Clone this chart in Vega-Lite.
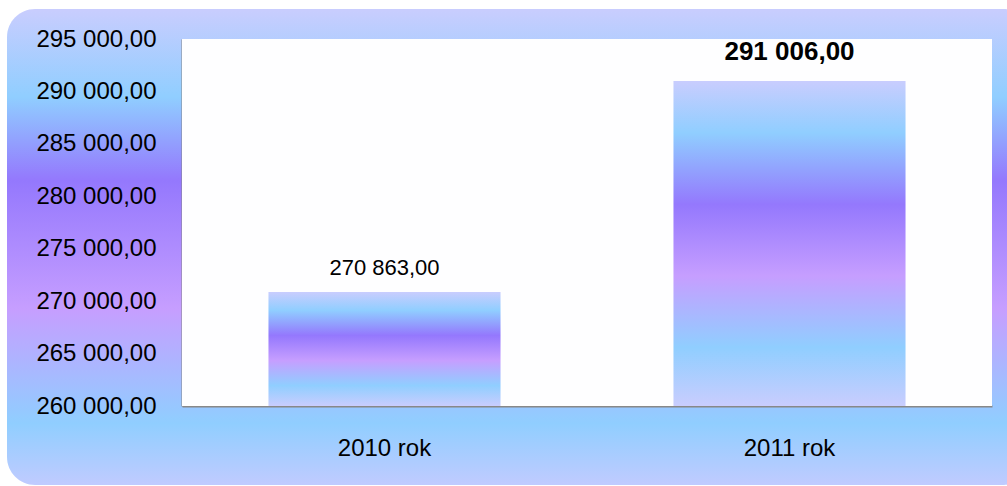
{
  "$schema": "https://vega.github.io/schema/vega-lite/v6.json",
  "width": 1025,
  "height": 476,
  "autosize": "none",
  "padding": {"left": 7, "top": 9, "right": 0, "bottom": 0},
  "background": "#ffffff",
  "config": {
    "locale": {"number": {"decimal": ",", "thousands": " ", "grouping": [3], "currency": ["", ""]}},
    "view": {
      "stroke": null,
      "cornerRadius": 28,
      "fill": {
        "gradient": "linear", "x1": 0, "y1": 0, "x2": 0, "y2": 1,
        "stops": [
          {"offset": 0, "color": "#c9cdfe"},
          {"offset": 0.185, "color": "#90ceff"},
          {"offset": 0.36, "color": "#9478fd"},
          {"offset": 0.63, "color": "#c69eff"},
          {"offset": 0.87, "color": "#90ceff"},
          {"offset": 1, "color": "#c0cbff"}
        ]
      }
    },
    "font": "Liberation Sans"
  },
  "data": {"values": [
    {"rok": "2010 rok", "wartosc": 270863},
    {"rok": "2011 rok", "wartosc": 291006}
  ]},
  "layer": [
    {
      "data": {"values": [{"od": 0, "do": 1, "min": 260000, "max": 295000}]},
      "mark": {"type": "rect", "fill": "#fefeff"},
      "encoding": {
        "x": {"field": "od", "type": "quantitative", "scale": {"domain": [0, 1], "range": [175, 985]}, "axis": null},
        "x2": {"field": "do"},
        "y": {
          "field": "min", "type": "quantitative",
          "scale": {"domain": [260000, 295000], "range": [397, 30], "zero": false, "nice": false},
          "axis": {
            "title": null, "values": [260000, 265000, 270000, 275000, 280000, 285000, 290000, 295000],
            "format": ",.2f", "offset": -175, "ticks": false, "tickSize": 0, "grid": false,
            "domainColor": "#888888", "domainWidth": 2, "labelFontSize": 24,
            "labelColor": "#000000", "labelPadding": 26
          }
        },
        "y2": {"field": "max"}
      }
    },
    {
      "layer": [
        {
          "mark": {
            "type": "bar",
            "fill": {
              "gradient": "linear", "x1": 0, "y1": 0, "x2": 0, "y2": 1,
              "stops": [
                {"offset": 0, "color": "#c9cdfe"},
                {"offset": 0.16, "color": "#90ceff"},
                {"offset": 0.38, "color": "#9478fd"},
                {"offset": 0.6, "color": "#c69eff"},
                {"offset": 0.82, "color": "#90ceff"},
                {"offset": 1, "color": "#c9cdfe"}
              ]
            }
          },
          "encoding": {
            "x": {
              "field": "rok", "type": "nominal", "sort": null,
              "scale": {"range": [175, 985], "paddingInner": 0.427, "paddingOuter": 0.2135},
              "axis": {
                "title": null, "labelAngle": 0, "offset": -79, "ticks": false,
                "domainColor": "#888888", "domainWidth": 2, "labelFontSize": 24,
                "labelColor": "#000000", "labelPadding": 30, "grid": false
              }
            },
            "y": {
              "field": "wartosc", "type": "quantitative",
              "scale": {"domain": [260000, 295000], "range": [397, 30], "zero": false, "nice": false},
              "axis": {
                "title": null, "values": [260000, 265000, 270000, 275000, 280000, 285000, 290000, 295000],
                "format": ",.2f", "offset": -175, "ticks": false, "tickSize": 0, "grid": false,
                "domainColor": "#888888", "domainWidth": 2, "labelFontSize": 24,
                "labelColor": "#000000", "labelPadding": 26
              }
            },
            "y2": {"datum": 260000}
          }
        },
        {
          "transform": [{"filter": "datum.rok === '2010 rok'"}],
          "mark": {"type": "text", "fontSize": 22, "baseline": "alphabetic", "dy": -17, "color": "#000000"},
          "encoding": {
            "x": {"field": "rok", "type": "nominal", "sort": null},
            "y": {"field": "wartosc", "type": "quantitative"},
            "text": {"field": "wartosc", "type": "quantitative", "format": ",.2f"}
          }
        },
        {
          "transform": [{"filter": "datum.rok === '2011 rok'"}],
          "mark": {"type": "text", "fontSize": 26, "fontWeight": "bold", "baseline": "alphabetic", "dy": -21, "color": "#000000"},
          "encoding": {
            "x": {"field": "rok", "type": "nominal", "sort": null},
            "y": {"field": "wartosc", "type": "quantitative"},
            "text": {"field": "wartosc", "type": "quantitative", "format": ",.2f"}
          }
        }
      ]
    }
  ],
  "resolve": {"scale": {"x": "independent"}, "axis": {"x": "independent"}}
}
